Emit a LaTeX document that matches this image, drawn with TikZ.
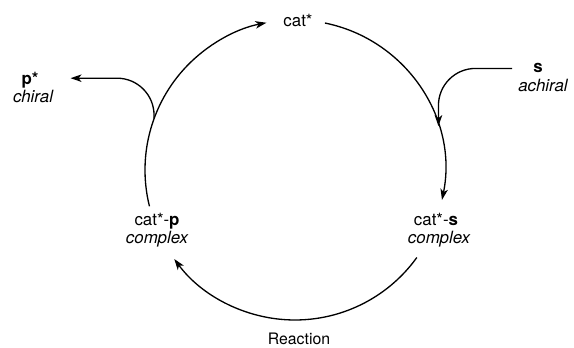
\documentclass[tikz,border=0pt]{standalone}
\usepackage{fontspec}
\setmainfont{TeX Gyre Heros}
\usetikzlibrary{positioning, arrows.meta}

\begin{document}
\begin{tikzpicture}[
    x=0.2mm, y=0.2mm,
    lbl/.style={anchor=base, font=\fontsize{9.6}{11}\selectfont, inner sep=1pt},
    sub/.style={lbl, font=\fontsize{9.6}{11}\selectfont\itshape},
    arrow/.style={-{Stealth[length=2.2mm, width=1.5mm, inset=0.6mm]}, line width=0.75pt},
    branch/.style={arrow, rounded corners=7.4mm}
]
\useasboundingbox (0,0) rectangle (574,347);

% centre of the cycle
\coordinate (c) at (295,177);

% species round the cycle
\node[lbl] (cat) at (298,320) {cat*};
\node[lbl] (cats) at (436,121) {cat*-\textbf{s}};
\node[sub] (catsc) at (439,103) {complex};
\node[lbl] (catp) at (157,121) {cat*-\textbf{p}};
\node[sub] (catpc) at (157,103) {complex};
\node[lbl, font=\fontsize{9}{11}\selectfont] (react) at (299,2) {Reaction};

% substrate in, product out
\node[lbl] (s) at (538,274) {\textbf{s}};
\node[sub] (sach) at (543,255) {achiral};
\node[lbl] (pstar) at (30,262) {\textbf{p*}};
\node[sub] (pchir) at (33,244) {chiral};

% arc ends on the circle
\path (c) ++(194:150) coordinate (l0);
\path (c) ++(78.5:150) coordinate (r0);
\path (c) ++(-35.7:150) coordinate (b0);
\path (c) ++(160:150) coordinate (jp);
\path (c) ++(17:150) coordinate (js);

% cycle
\draw[arrow] (l0) arc[start angle=194, end angle=101, radius=150];
\draw[arrow] (r0) arc[start angle=78.5, end angle=-11.5, radius=150];
\draw[arrow] (b0) arc[start angle=-35.7, end angle=-143.6, radius=150];

% branches
\draw[branch, shorten <=3.8mm] (s.west) -| (js);
\draw[branch, shorten >=6mm] (jp) |- ([yshift=0.5mm]pstar.east);

\end{tikzpicture}
\end{document}
